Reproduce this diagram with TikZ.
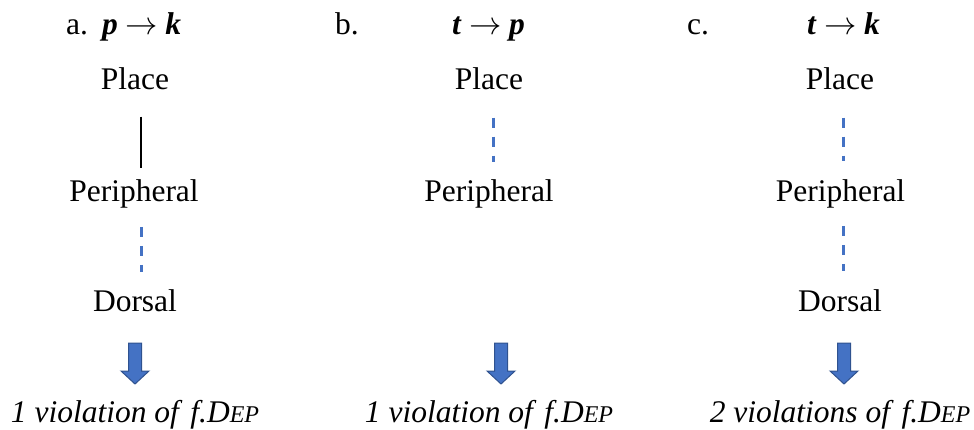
\documentclass[tikz,border=0pt]{standalone}
\usepackage{fontspec}
\usepackage{graphicx}
\setmainfont{Liberation Serif}
\definecolor{dashblue}{HTML}{4472C4}
\definecolor{arrowfill}{HTML}{4472C4}
\definecolor{arrowedge}{HTML}{2F528F}
\begin{document}
\begin{tikzpicture}[x=1pt,y=-1pt,
  lbl/.style={anchor=base,inner sep=0pt,font=\fontsize{31.5}{38}\selectfont},
  solidlink/.style={line width=1.6pt,black},
  dashlink/.style={line width=3pt,dashblue,dash pattern=on 10pt off 9pt},
  blockarrow/.style={fill=arrowfill,draw=arrowedge,line width=1pt,line join=miter}]
\useasboundingbox (0,0) rectangle (974,430);
\newcommand{\fdep}{\textit{f.D{\fontsize{24}{28}\selectfont EP}}}
\newcommand{\rarr}{\hspace{8pt}\scalebox{1.3}{\fontsize{24.88}{30}\selectfont$\rightarrow$}\hspace{7pt}}
% titles
\node[lbl,anchor=base west] (ta) at (66,35) {a.};
\node[lbl,anchor=base west] (fa) at (102,35) {\textbf{\textit{p}}\rarr\textbf{\textit{k}}};
\node[lbl,anchor=base west] (tb) at (335,35) {b.};
\node[lbl,anchor=base west] (fb) at (452,35) {\textbf{\textit{t}}\rarr\textbf{\textit{p}}};
\node[lbl,anchor=base west] (tc) at (687,35) {c.};
\node[lbl,anchor=base west] (fc) at (807,35) {\textbf{\textit{t}}\rarr\textbf{\textit{k}}};
% column a
\node[lbl] (pa) at (135,90) {Place};
\node[lbl] (ra) at (134,202) {Peripheral};
\node[lbl] (da) at (135,312) {Dorsal};
\draw[solidlink,shorten <=26pt,shorten >=11.5pt] ([xshift=6pt]pa.south) -- ([xshift=7pt]ra.north);
\draw[dashlink,shorten <=18pt,shorten >=17.5pt] ([xshift=7pt]ra.south) -- ([xshift=6pt]da.north);
% column b
\node[lbl] (pb) at (489,90) {Place};
\node[lbl] (rb) at (489,202) {Peripheral};
\draw[dashlink,shorten <=27pt,shorten >=17.5pt] ([xshift=4pt]pb.south) -- ([xshift=4pt]rb.north);
% column c
\node[lbl] (pc) at (840,90) {Place};
\node[lbl] (rc) at (840.5,202) {Peripheral};
\node[lbl] (dc) at (840,312) {Dorsal};
\draw[dashlink,shorten <=27pt,shorten >=18.5pt] ([xshift=3pt]pc.south) -- ([xshift=2.5pt]rc.north);
\draw[dashlink,shorten <=17pt,shorten >=18.5pt] ([xshift=2.5pt]rc.south) -- ([xshift=3pt]dc.north);
% block arrows
\coordinate (arra) at (135,343);
\coordinate (arrb) at (501,343);
\coordinate (arrc) at (844,343);
\foreach \c in {arra,arrb,arrc}{
  \draw[blockarrow] (\c) ++(-6.5,0) -- ++(13,0) -- ++(0,28) -- ++(7.5,0) -- ++(-14,13) -- ++(-14,-13) -- ++(7.5,0) -- cycle;
}
% results
\node[lbl] (va) at (135,422) {\textit{1 violation of }\fdep};
\node[lbl] (vb) at (489,422) {\textit{1 violation of }\fdep};
\node[lbl] (vc) at (840,422) {\textit{2 violations of }\fdep};
\end{tikzpicture}
\end{document}
